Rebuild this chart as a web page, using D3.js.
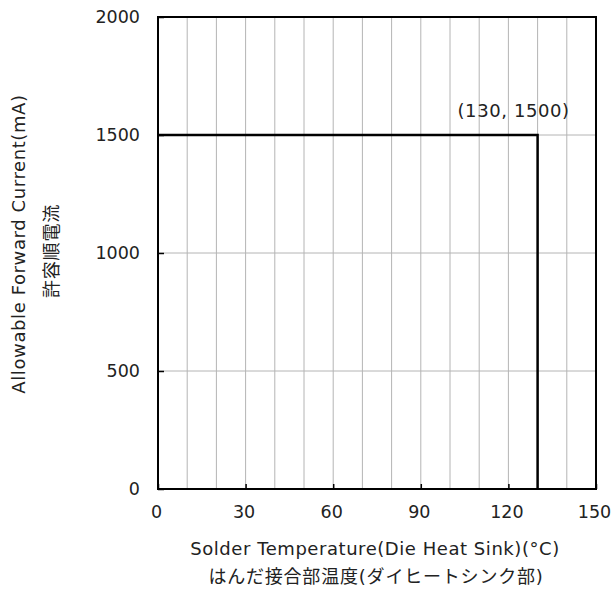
<!DOCTYPE html>
<html>
<head>
<meta charset="utf-8">
<script src="https://cdn.jsdelivr.net/npm/d3@7"></script>
<style>
  body { margin: 0; background: #fff; }
  text { font-family: "DejaVu Sans", "Noto Sans CJK JP", sans-serif; fill: #222; }
</style>
</head>
<body>
<div id="chart"></div>
<script>
// Chart data
const xTicks = [0, 30, 60, 90, 120, 150];
const yTicks = [0, 500, 1000, 1500, 2000];
const xGrid = [10, 20, 30, 40, 50, 60, 70, 80, 90, 100, 110, 120, 130, 140];
const yGrid = [500, 1000, 1500];
const deratingTemp = [0, 130, 130];
const deratingCurrent = [1500, 1500, 0];
const pointLabel = "(130, 1500)";

const width = 611, height = 589;
const margin = { top: 17, right: 15, bottom: 100, left: 158 };

const svg = d3.select("#chart").append("svg")
    .attr("width", width)
    .attr("height", height);

const x = d3.scaleLinear().domain([0, 150]).range([margin.left, width - margin.right]);
const y = d3.scaleLinear().domain([0, 2000]).range([height - margin.bottom, margin.top]);

// grid lines
svg.append("g")
    .selectAll("line")
    .data(xGrid)
    .join("line")
    .attr("x1", d => x(d)).attr("x2", d => x(d))
    .attr("y1", y(0)).attr("y2", y(2000))
    .attr("stroke", "#b4b4b4")
    .attr("stroke-width", 1);

svg.append("g")
    .selectAll("line")
    .data(yGrid)
    .join("line")
    .attr("x1", x(0)).attr("x2", x(150))
    .attr("y1", d => y(d)).attr("y2", d => y(d))
    .attr("stroke", "#b4b4b4")
    .attr("stroke-width", 1);

// axes with inward ticks
const xAxis = svg.append("g")
    .attr("transform", `translate(0,${y(0)})`)
    .call(d3.axisBottom(x).tickValues(xTicks).tickFormat(d3.format("d")).tickSize(-5).tickPadding(17));
xAxis.select(".domain").remove();
xAxis.selectAll(".tick line").attr("stroke", "#000").attr("stroke-width", 1.5);
xAxis.selectAll(".tick text")
    .attr("font-size", 17.5)
    .attr("dx", -2);

const yAxis = svg.append("g")
    .attr("transform", `translate(${x(0)},0)`)
    .call(d3.axisLeft(y).tickValues(yTicks).tickFormat(d3.format("d")).tickSize(-6).tickPadding(18));
yAxis.select(".domain").remove();
yAxis.selectAll(".tick line").attr("stroke", "#000").attr("stroke-width", 1.5);
yAxis.selectAll(".tick text").attr("font-size", 17.5);
svg.selectAll(".tick text").attr("fill", "#222");

// plot frame
svg.append("rect")
    .attr("x", x(0)).attr("y", y(2000))
    .attr("width", x(150) - x(0))
    .attr("height", y(0) - y(2000))
    .attr("fill", "none")
    .attr("stroke", "#000")
    .attr("stroke-width", 2);

// derating line
const line = d3.line().x((d, i) => x(deratingTemp[i])).y(d => y(d));
svg.append("path")
    .datum(deratingCurrent)
    .attr("d", line)
    .attr("fill", "none")
    .attr("stroke", "#000")
    .attr("stroke-width", 2.5);

// point annotation
svg.append("text")
    .attr("x", x(deratingTemp[1]) - 24)
    .attr("y", y(deratingCurrent[1]) - 18)
    .attr("text-anchor", "middle")
    .attr("font-size", 18)
    .attr("letter-spacing", 0.6)
    .text(pointLabel);

// axis titles
svg.append("text")
    .attr("x", (x(0) + x(150)) / 2 - 2)
    .attr("y", 555)
    .attr("text-anchor", "middle")
    .attr("font-size", 18)
    .attr("letter-spacing", 0.55)
    .text("Solder Temperature(Die Heat Sink)(°C)");

svg.append("text")
    .attr("x", (x(0) + x(150)) / 2 - 1)
    .attr("y", 583)
    .attr("text-anchor", "middle")
    .attr("font-size", 18)
    .attr("letter-spacing", 0.8)
    .text("はんだ接合部温度(ダイヒートシンク部)");

svg.append("text")
    .attr("transform", `translate(25,244) rotate(-90)`)
    .attr("text-anchor", "middle")
    .attr("font-size", 18)
    .attr("letter-spacing", 0.6)
    .text("Allowable Forward Current(mA)");

svg.append("text")
    .attr("transform", `translate(58,251) rotate(-90)`)
    .attr("text-anchor", "middle")
    .attr("font-size", 18)
    .attr("letter-spacing", 0.8)
    .text("許容順電流");
</script>
</body>
</html>
